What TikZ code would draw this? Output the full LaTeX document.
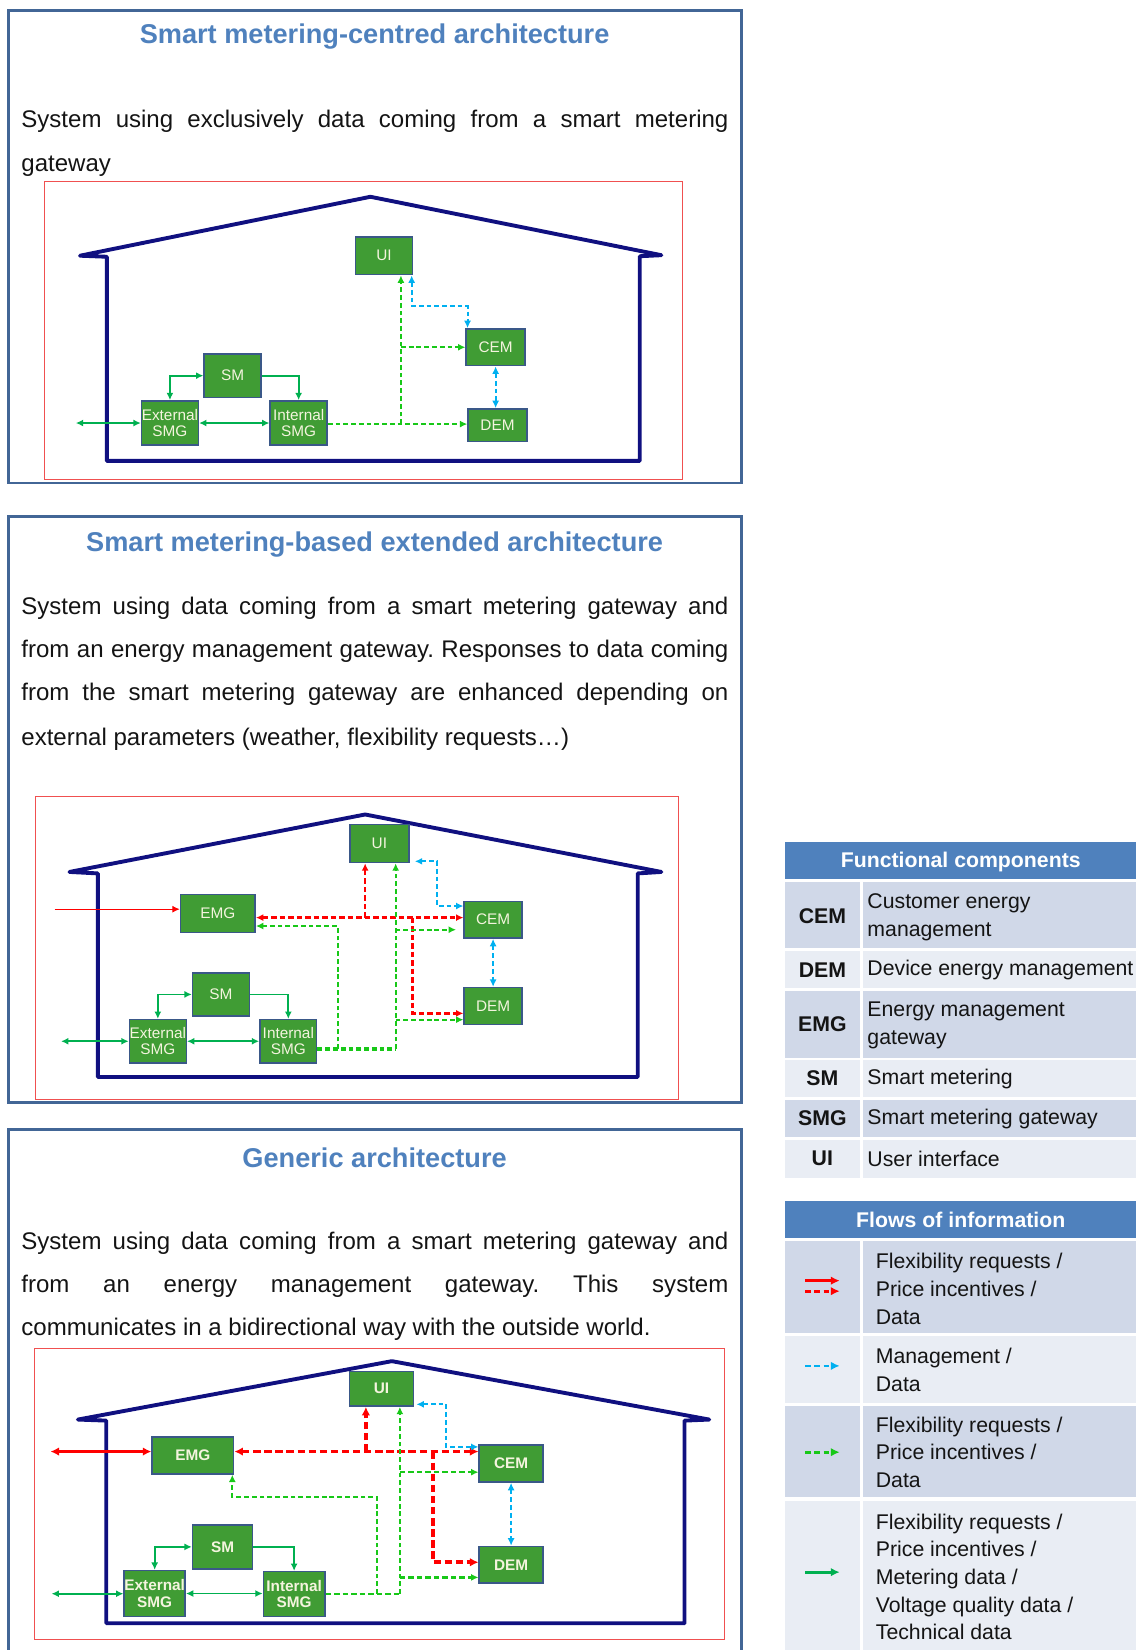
\documentclass[tikz,border=0pt]{standalone}
\usepackage{fontspec}
\setmainfont{Liberation Sans}
\usetikzlibrary{arrows.meta,calc}

\definecolor{framecol}{RGB}{66,102,150}
\definecolor{titlecol}{RGB}{79,129,189}
\definecolor{housecol}{RGB}{16,16,128}
\definecolor{boxgreen}{RGB}{64,156,52}
\definecolor{boxedge}{RGB}{58,88,136}
\definecolor{labelcol}{RGB}{244,244,222}
\definecolor{solidgreen}{RGB}{0,176,80}
\definecolor{dashgreen}{RGB}{24,200,24}
\definecolor{flowblue}{RGB}{0,176,240}
\definecolor{flowred}{RGB}{255,0,0}
\definecolor{sheetred}{RGB}{240,80,80}
\definecolor{headblue}{RGB}{79,129,189}
\definecolor{rowdark}{RGB}{208,216,232}
\definecolor{rowlight}{RGB}{233,237,244}
\definecolor{inkcol}{RGB}{20,20,20}

\newlength\bodyw
\setlength\bodyw{13.44cm}

\begin{document}
\frenchspacing
\begin{tikzpicture}[x=0.02cm,y=-0.02cm,
  >={Latex[length=4pt,width=3.8pt]},
  frame/.style={draw=framecol,line width=1.6pt},
  sheet/.style={draw=sheetred,line width=0.5pt},
  house/.style={draw=housecol,line width=2.1pt,line join=round,line cap=round},
  comp/.style 2 args={draw=boxedge,line width=0.8pt,fill=boxgreen,text=labelcol,
    minimum width=#1*0.02cm,minimum height=#2*0.02cm,inner sep=0pt,align=center,
    font=\fontsize{8.3}{8.7}\selectfont},
  compb/.style 2 args={comp={#1}{#2},font=\fontsize{8.3}{8.7}\selectfont\bfseries},
  titletext/.style={text=titlecol,font=\fontsize{14.7}{17}\selectfont\bfseries,inner sep=0pt},
  bodyline/.style={anchor=base west,inner sep=0pt,text=inkcol,font=\fontsize{13}{15.6}\selectfont},
  gsolid/.style={draw=solidgreen,line width=1pt},
  gdash/.style={draw=dashgreen,line width=1.1pt,dash pattern=on 2.6pt off 1.6pt},
  gdashb/.style={draw=dashgreen,line width=1.4pt,dash pattern=on 3pt off 1.6pt},
  bdash/.style={draw=flowblue,line width=1.1pt,dash pattern=on 2.6pt off 1.6pt},
  rdash/.style={draw=flowred,line width=1.4pt,dash pattern=on 3pt off 1.6pt},
  rdashb/.style={draw=flowred,line width=2pt,dash pattern=on 4pt off 2pt,
    >={Latex[length=4.6pt,width=4.6pt]}},
  rthin/.style={draw=flowred,line width=0.6pt},
  rthick/.style={draw=flowred,line width=1.8pt,>={Latex[length=4.6pt,width=4.6pt]}},
  legline/.style={line width=1.5pt,>={Latex[length=4.8pt,width=4.6pt]}},
  headtext/.style={text=white,font=\fontsize{11.5}{14}\selectfont\bfseries,inner sep=0pt},
  abbrtext/.style={text=inkcol,font=\fontsize{11.5}{14}\selectfont\bfseries,inner sep=0pt},
  desctext/.style={anchor=west,text=inkcol,align=left,font=\fontsize{11.5}{15}\selectfont,inner sep=0pt}
]
\useasboundingbox (0,0) rectangle (1080,1568);

%% ---------------- panel 1 ----------------
\draw[frame] (8,10) rectangle (705,459);
\node[titletext] (t1) at (356,35) {Smart metering-centred architecture};
\node[bodyline] (t1a) at (20,121) {\makebox[\bodyw][s]{System using exclusively data coming from a smart metering}};
\node[bodyline] (t1b) at (20,163) {gateway};
\draw[sheet] (42.3,172.7) rectangle (649,455.7);
\draw[house] (101.5,244) -- (76,243) -- (352,187) -- (628.5,242.5) -- (608,243.5)
  -- (608,438) -- (101.5,438) -- cycle;

\node[comp={54}{36}] (a1ui) at (365,243) {UI};
\node[comp={56}{35}] (a1cem) at (471,330) {CEM};
\node[comp={54}{41}] (a1sm) at (221,357) {SM};
\node[comp={54}{42}] (a1ext) at (161.5,402) {External\\SMG};
\node[comp={54}{42}] (a1int) at (283.8,402) {Internal\\SMG};
\node[comp={56}{31}] (a1dem) at (472.8,404) {DEM};

\coordinate (a1in) at (72,402);
\draw[gsolid,<->] (a1in) -- (a1ext.west);
\draw[gsolid,<->] (a1ext.east) -- (a1int.west);
\draw[gsolid,<->] (a1ext.north) |- (a1sm.west);
\draw[gsolid,->] (a1sm.east) -| (a1int.north);
\coordinate (a1j) at (381,403);
\draw[gdash,->] (a1int.east |- a1j) -- (a1j -| a1dem.west);
\draw[gdash,->] (a1j) -- (a1j |- a1ui.south);
\draw[gdash,->] (a1j |- a1cem.west) -- (a1cem.west);
\draw[bdash,<->] ($(a1ui.south east)+(-1.5,0)$) -- ++(0,29) -| ($(a1cem.north west)+(2,0)$);
\draw[bdash,<->] (a1cem.south) -- (a1cem.south |- a1dem.north);

%% ---------------- panel 2 ----------------
\draw[frame] (8,491) rectangle (705,1048);
\node[titletext] (t2) at (356,517.5) {Smart metering-based extended architecture};
\node[bodyline] (t2a) at (20,584) {\makebox[\bodyw][s]{System using data coming from a smart metering gateway and}};
\node[bodyline] (t2b) at (20,625) {\makebox[\bodyw][s]{from an energy management gateway. Responses to data coming}};
\node[bodyline] (t2c) at (20,666) {\makebox[\bodyw][s]{from the smart metering gateway are enhanced depending on}};
\node[bodyline] (t2d) at (20,708) {external parameters (weather, flexibility requests…)};
\draw[sheet] (34,756.4) rectangle (645,1045);
\draw[house] (93,830) -- (66,828.6) -- (347,774) -- (628.5,828.6) -- (606,830)
  -- (606,1023.5) -- (93,1023.5) -- cycle;

\node[comp={56}{36}] (a2ui) at (360.5,801.7) {UI};
\node[comp={71}{36}] (a2emg) at (207,868) {EMG};
\node[comp={55}{35}] (a2cem) at (468.6,874) {CEM};
\node[comp={54}{41}] (a2sm) at (210,945) {SM};
\node[comp={54}{41}] (a2ext) at (150,989.5) {External\\SMG};
\node[comp={54}{41}] (a2int) at (274,989.5) {Internal\\SMG};
\node[comp={55}{35}] (a2dem) at (468.6,956) {DEM};

% incoming flexibility requests
\coordinate (a2rin) at (52,864);
\draw[rthin,->] (a2rin) -- (a2rin -| a2emg.west);
% red flows from the energy management gateway
\coordinate (a2ra) at (347,872);
\coordinate (a2rb) at (392,872);
\coordinate (a2rc) at (392,963);
\draw[rdash,<->] (a2emg.east |- a2ra) -- (a2ra -| a2cem.west);
\draw[rdash,->] (a2ra) -- (a2ra |- a2ui.south);
\draw[rdash,->] (a2rb) -- (a2rc) -- (a2rc -| a2dem.west);
% green flows from the internal gateway
\coordinate (a2ga) at (321,997);
\coordinate (a2gb) at (376,997);
\coordinate (a2gc) at (321,880);
\coordinate (a2gd) at (376,883.5);
\coordinate (a2ge) at (376,969);
\draw[gdash,line width=2pt] (a2int.east |- a2gb) -- (a2gb);
\draw[gdash,->] (a2ga) -- (a2gc) -- (a2gc -| a2emg.east);
\draw[gdash,->] (a2gb) -- (a2gb |- a2ui.south);
\draw[gdash,->,shorten >=4pt] (a2gd) -- (a2gd -| a2cem.west);
\draw[gdash,->] (a2ge) -- (a2ge -| a2dem.west);
% management flows
\coordinate (a2ba) at (415.5,818.5);
\coordinate (a2bb) at (415.5,861);
\draw[bdash,<->] ($(a2ba -| a2ui.east)+(5,0)$) -- (a2ba) -- (a2bb) -- (a2bb -| a2cem.west);
\draw[bdash,<->] (a2cem.south) -- (a2cem.south |- a2dem.north);
% metering links
\coordinate (a2in) at (58,989.5);
\draw[gsolid,<->] (a2in) -- (a2ext.west);
\draw[gsolid,<->] (a2ext.east) -- (a2int.west);
\draw[gsolid,<->] (a2ext.north) |- (a2sm.west);
\draw[gsolid,->] (a2sm.east) -| (a2int.north);

%% ---------------- panel 3 ----------------
\draw[frame] (8,1590) -- (8,1073) -- (705,1073) -- (705,1590);
\node[titletext] (t3) at (356,1100) {Generic architecture};
\node[bodyline] (t3a) at (20,1187) {\makebox[\bodyw][s]{System using data coming from a smart metering gateway and}};
\node[bodyline] (t3b) at (20,1228) {\makebox[\bodyw][s]{from an energy management gateway. This system}};
\node[bodyline] (t3c) at (20,1269) {communicates in a bidirectional way with the outside world.};
\draw[sheet] (32.3,1281.8) rectangle (688.7,1558.4);
\draw[house] (101,1350) -- (74,1349) -- (372.4,1293.5) -- (674,1349) -- (650.5,1350)
  -- (650.5,1542.6) -- (101,1542.6) -- cycle;

\node[compb={61}{33}] (a3ui) at (362.5,1319.7) {UI};
\node[compb={77.5}{35}] (a3emg) at (183.3,1383.2) {EMG};
\node[compb={60.6}{35.5}] (a3cem) at (485.7,1390.7) {CEM};
\node[compb={57}{42}] (a3sm) at (211.5,1470) {SM};
\node[compb={58}{43.5}] (a3ext) at (147,1514.3) {External\\SMG};
\node[compb={58.4}{42.5}] (a3int) at (279.5,1514.8) {Internal\\SMG};
\node[compb={60.6}{35}] (a3dem) at (485.7,1487) {DEM};

% bidirectional exchange with the outside world
\coordinate (a3rin) at (48,1379.4);
\draw[rthick,<->] (a3rin) -- (a3rin -| a3emg.west);
\coordinate (a3ra) at (347.7,1379.4);
\coordinate (a3rb) at (411.8,1379.4);
\coordinate (a3rc) at (411.8,1484.6);
\draw[rdashb,<->] (a3emg.east |- a3ra) -- (a3ra -| a3cem.west);
\draw[rdashb,->] (a3ra) -- (a3ra |- a3ui.south);
\draw[rdashb,->] (a3rb) -- (a3rc) -- (a3rc -| a3dem.west);
% green flows from the internal gateway
\coordinate (a3ga) at (358,1514.7);
\coordinate (a3gb) at (380,1514.7);
\coordinate (a3gc) at (358,1422.2);
\coordinate (a3gd) at (380,1399);
\coordinate (a3ge) at (380,1499);
\draw[gdashb] (a3int.east |- a3gb) -- (a3gb);
\draw[gdash,->] (a3ga) -- (a3gc) -| ($(a3emg.south east)+(-2,0)$);
\draw[gdash,->] (a3gb) -- (a3gb |- a3ui.south);
\draw[gdashb,->] (a3gd) -- (a3gd -| a3cem.west);
\draw[gdashb,->] (a3ge) -- (a3ge -| a3dem.west);
% management flows
\coordinate (a3ba) at (424,1334.5);
\coordinate (a3bb) at (424,1375);
\draw[bdash,<->] ($(a3ba -| a3ui.east)+(2,0)$) -- (a3ba) -- (a3bb) -- (a3bb -| a3cem.west);
\draw[bdash,<->] (a3cem.south) -- (a3cem.south |- a3dem.north);
% metering links
\coordinate (a3in) at (49,1514.5);
\draw[gsolid,<->] (a3in) -- (a3in -| a3ext.west);
\draw[gsolid,<->] (a3ext.east) -- (a3ext.east -| a3int.west);
\draw[gsolid,<->] (a3ext.north) |- (a3sm.west);
\draw[gsolid,->] (a3sm.east) -| (a3int.north);

%% ---------------- legend: functional components ----------------
\fill[headblue] (746,800) rectangle (1080,835.5);
\node[headtext] (fch) at (913,819) {Functional components};
\fill[rowdark]  (746,838.5) rectangle (817,901);   \fill[rowdark]  (820,838.5) rectangle (1080,901);
\fill[rowlight] (746,903.5) rectangle (817,939);   \fill[rowlight] (820,903.5) rectangle (1080,939);
\fill[rowdark]  (746,941.5) rectangle (817,1005);  \fill[rowdark]  (820,941.5) rectangle (1080,1005);
\fill[rowlight] (746,1007.5) rectangle (817,1042.5); \fill[rowlight] (820,1007.5) rectangle (1080,1042.5);
\fill[rowdark]  (746,1045) rectangle (817,1080.5); \fill[rowdark]  (820,1045) rectangle (1080,1080.5);
\fill[rowlight] (746,1083) rectangle (817,1119);   \fill[rowlight] (820,1083) rectangle (1080,1119);

\node[abbrtext] (kcem) at (781.5,870.5) {CEM};
\node[desctext] (dcem) at (824,871.5) {Customer energy\\management};
\node[abbrtext] (kdem) at (781.5,921.5) {DEM};
\node[desctext] (ddem) at (824,921.5) {Device energy management};
\node[abbrtext] (kemg) at (781.5,973.5) {EMG};
\node[desctext] (demg) at (824,974.5) {Energy management\\gateway};
\node[abbrtext] (ksm) at (781.5,1025) {SM};
\node[desctext] (dsm) at (824,1025) {Smart metering};
\node[abbrtext] (ksmg) at (781.5,1063) {SMG};
\node[desctext] (dsmg) at (824,1063) {Smart metering gateway};
\node[abbrtext] (kui) at (781.5,1101) {UI};
\node[desctext] (dui) at (824,1101) {User interface};

%% ---------------- legend: flows of information ----------------
\fill[headblue] (746,1141) rectangle (1080,1176);
\node[headtext] (foh) at (913,1159) {Flows of information};
\fill[rowdark]  (746,1179) rectangle (817,1267);  \fill[rowdark]  (820,1179) rectangle (1080,1267);
\fill[rowlight] (746,1270) rectangle (817,1333);  \fill[rowlight] (820,1270) rectangle (1080,1333);
\fill[rowdark]  (746,1336) rectangle (817,1423);  \fill[rowdark]  (820,1336) rectangle (1080,1423);
\fill[rowlight] (746,1426) rectangle (817,1580);  \fill[rowlight] (820,1426) rectangle (1080,1580);

\coordinate (lr1a) at (765,1217); \coordinate (lr1b) at (798,1217);
\coordinate (lr2a) at (765,1227); \coordinate (lr2b) at (798,1227);
\coordinate (lb1a) at (765,1298); \coordinate (lb1b) at (798,1298);
\coordinate (lg1a) at (765,1380); \coordinate (lg1b) at (798,1380);
\coordinate (lg2a) at (765,1494); \coordinate (lg2b) at (798,1494);
\draw[legline,draw=flowred,->] (lr1a) -- (lr1b);
\draw[legline,draw=flowred,dash pattern=on 3.2pt off 1.8pt,->] (lr2a) -- (lr2b);
\draw[legline,draw=flowblue,dash pattern=on 3.2pt off 1.8pt,->] (lb1a) -- (lb1b);
\draw[legline,draw=dashgreen,dash pattern=on 3.2pt off 1.8pt,->] (lg1a) -- (lg1b);
\draw[legline,draw=solidgreen,->] (lg2a) -- (lg2b);

\node[desctext] (fr1) at (832,1225) {Flexibility requests /\\Price incentives /\\Data};
\node[desctext] (fr2) at (832,1301.5) {Management /\\Data};
\node[desctext] (fr3) at (832,1380) {Flexibility requests /\\Price incentives /\\Data};
\node[desctext] (fr4) at (832,1498.5) {Flexibility requests /\\Price incentives /\\Metering data /\\Voltage quality data /\\Technical data};
\end{tikzpicture}
\end{document}
